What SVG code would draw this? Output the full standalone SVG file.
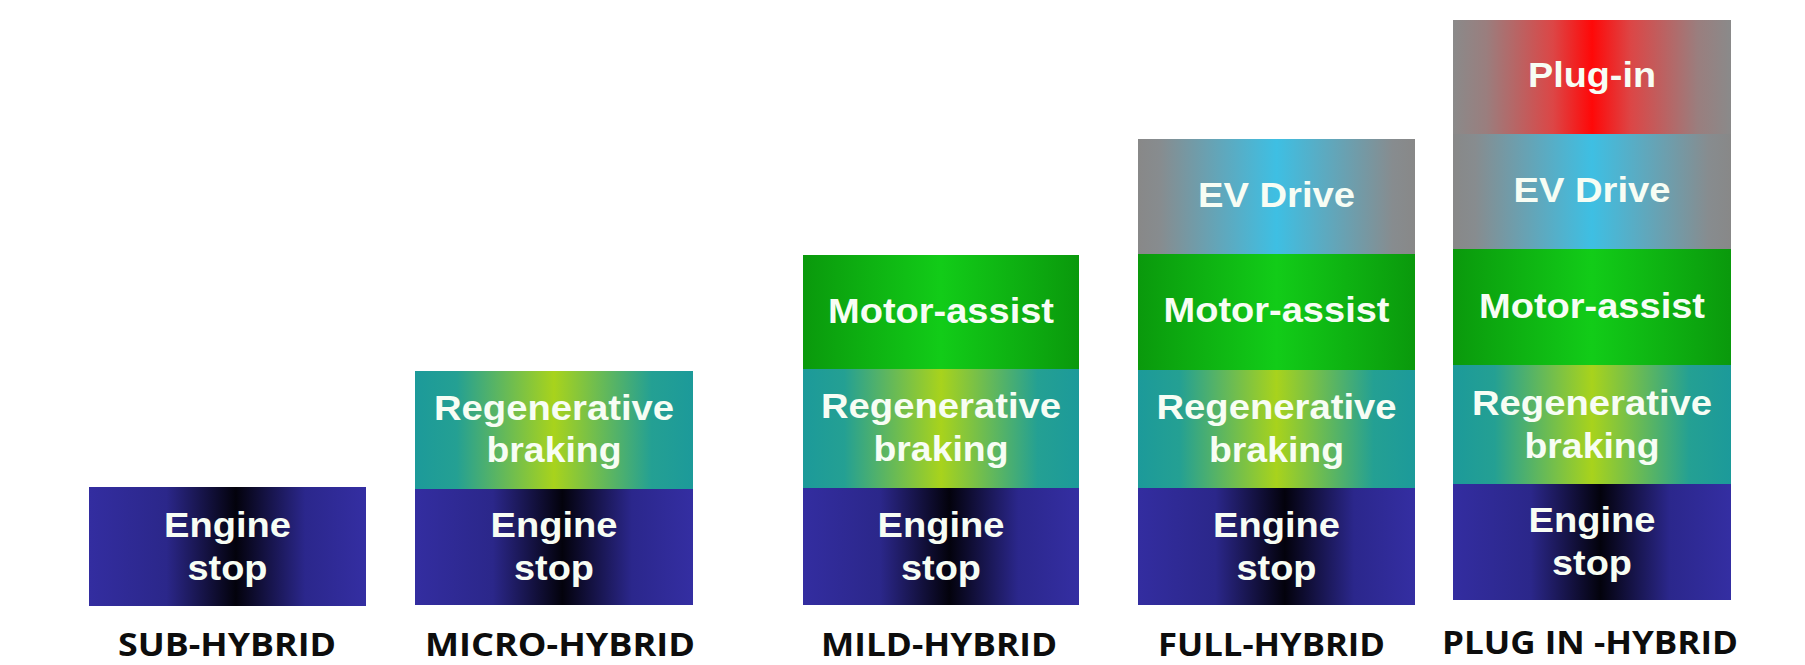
<svg xmlns="http://www.w3.org/2000/svg" width="1805" height="665" viewBox="0 0 1805 665">
<defs>
<linearGradient id="gEngine" x1="0" y1="0" x2="1" y2="0">
<stop offset="0" stop-color="#332da0"/>
<stop offset="0.28" stop-color="#2b278a"/>
<stop offset="0.53" stop-color="#03020c"/>
<stop offset="0.78" stop-color="#2b278c"/>
<stop offset="1" stop-color="#342ea2"/>
</linearGradient>
<linearGradient id="gRegen" x1="0" y1="0" x2="1" y2="0">
<stop offset="0" stop-color="#1c9a9a"/>
<stop offset="0.15" stop-color="#24a093"/>
<stop offset="0.5" stop-color="#a8d31c"/>
<stop offset="0.85" stop-color="#24a093"/>
<stop offset="1" stop-color="#1c9a9a"/>
</linearGradient>
<linearGradient id="gMotor" x1="0" y1="0" x2="1" y2="0">
<stop offset="0" stop-color="#0a990c"/>
<stop offset="0.5" stop-color="#12cc18"/>
<stop offset="1" stop-color="#0a990c"/>
</linearGradient>
<linearGradient id="gEV" x1="0" y1="0" x2="1" y2="0">
<stop offset="0" stop-color="#888888"/>
<stop offset="0.08" stop-color="#878c8f"/>
<stop offset="0.5" stop-color="#3ebfe3"/>
<stop offset="0.92" stop-color="#878c8f"/>
<stop offset="1" stop-color="#888888"/>
</linearGradient>
<linearGradient id="gPlug" x1="0" y1="0" x2="1" y2="0">
<stop offset="0" stop-color="#8a8a8a"/>
<stop offset="0.12" stop-color="#9a7e7e"/>
<stop offset="0.36" stop-color="#dc4646"/>
<stop offset="0.5" stop-color="#ff0808"/>
<stop offset="0.64" stop-color="#dc4646"/>
<stop offset="0.88" stop-color="#9a7e7e"/>
<stop offset="1" stop-color="#8a8a8a"/>
</linearGradient>
</defs>
<style>
.t{font-family:"Liberation Sans",Arial,sans-serif;font-weight:700;font-size:35px;fill:#f7fdf4;text-anchor:middle}
.lbl{font-family:"Open Sans","Liberation Sans",sans-serif;font-weight:700;font-size:33px;fill:#0d0d0d;text-anchor:middle}
.eng{fill:url(#gEngine)}
.reg{fill:url(#gRegen)}
.mot{fill:url(#gMotor)}
.ev{fill:url(#gEV)}
.plug{fill:url(#gPlug)}
</style>
<rect width="1805" height="665" fill="#ffffff"/>

<g id="sub-hybrid">
<rect class="eng" x="89" y="487" width="277" height="119"/>
<text class="t" x="227.5" y="537" textLength="127" lengthAdjust="spacingAndGlyphs">Engine</text>
<text class="t" x="227.5" y="580" textLength="80" lengthAdjust="spacingAndGlyphs">stop</text>
<text class="lbl" x="227" y="656" textLength="218" lengthAdjust="spacingAndGlyphs">SUB-HYBRID</text>
</g>

<g id="micro-hybrid">
<rect class="reg" x="415" y="371" width="278" height="118"/>
<rect class="eng" x="415" y="489" width="278" height="116"/>
<text class="t" x="554" y="420" textLength="240" lengthAdjust="spacingAndGlyphs">Regenerative</text>
<text class="t" x="554" y="462" textLength="135" lengthAdjust="spacingAndGlyphs">braking</text>
<text class="t" x="554" y="537" textLength="127" lengthAdjust="spacingAndGlyphs">Engine</text>
<text class="t" x="554" y="580" textLength="80" lengthAdjust="spacingAndGlyphs">stop</text>
<text class="lbl" x="560" y="656" textLength="270" lengthAdjust="spacingAndGlyphs">MICRO-HYBRID</text>
</g>

<g id="mild-hybrid">
<rect class="mot" x="803" y="255" width="276" height="114"/>
<rect class="reg" x="803" y="369" width="276" height="119"/>
<rect class="eng" x="803" y="488" width="276" height="117"/>
<text class="t" x="941" y="323" textLength="226" lengthAdjust="spacingAndGlyphs">Motor-assist</text>
<text class="t" x="941" y="418" textLength="240" lengthAdjust="spacingAndGlyphs">Regenerative</text>
<text class="t" x="941" y="461" textLength="135" lengthAdjust="spacingAndGlyphs">braking</text>
<text class="t" x="941" y="537" textLength="127" lengthAdjust="spacingAndGlyphs">Engine</text>
<text class="t" x="941" y="580" textLength="80" lengthAdjust="spacingAndGlyphs">stop</text>
<text class="lbl" x="939" y="656" textLength="236" lengthAdjust="spacingAndGlyphs">MILD-HYBRID</text>
</g>

<g id="full-hybrid">
<rect class="ev" x="1138" y="139" width="277" height="115"/>
<rect class="mot" x="1138" y="254" width="277" height="116"/>
<rect class="reg" x="1138" y="370" width="277" height="118"/>
<rect class="eng" x="1138" y="488" width="277" height="117"/>
<text class="t" x="1276.5" y="207" textLength="157" lengthAdjust="spacingAndGlyphs">EV Drive</text>
<text class="t" x="1276.5" y="322" textLength="226" lengthAdjust="spacingAndGlyphs">Motor-assist</text>
<text class="t" x="1276.5" y="419" textLength="240" lengthAdjust="spacingAndGlyphs">Regenerative</text>
<text class="t" x="1276.5" y="462" textLength="135" lengthAdjust="spacingAndGlyphs">braking</text>
<text class="t" x="1276.5" y="537" textLength="127" lengthAdjust="spacingAndGlyphs">Engine</text>
<text class="t" x="1276.5" y="580" textLength="80" lengthAdjust="spacingAndGlyphs">stop</text>
<text class="lbl" x="1271.5" y="656" textLength="227" lengthAdjust="spacingAndGlyphs">FULL-HYBRID</text>
</g>

<g id="plug-in-hybrid">
<rect class="plug" x="1453" y="20" width="278" height="114"/>
<rect class="ev" x="1453" y="134" width="278" height="115"/>
<rect class="mot" x="1453" y="249" width="278" height="116"/>
<rect class="reg" x="1453" y="365" width="278" height="119"/>
<rect class="eng" x="1453" y="484" width="278" height="116"/>
<text class="t" x="1592" y="87" textLength="128" lengthAdjust="spacingAndGlyphs">Plug-in</text>
<text class="t" x="1592" y="202" textLength="157" lengthAdjust="spacingAndGlyphs">EV Drive</text>
<text class="t" x="1592" y="318" textLength="226" lengthAdjust="spacingAndGlyphs">Motor-assist</text>
<text class="t" x="1592" y="415" textLength="240" lengthAdjust="spacingAndGlyphs">Regenerative</text>
<text class="t" x="1592" y="458" textLength="135" lengthAdjust="spacingAndGlyphs">braking</text>
<text class="t" x="1592" y="532" textLength="127" lengthAdjust="spacingAndGlyphs">Engine</text>
<text class="t" x="1592" y="575" textLength="80" lengthAdjust="spacingAndGlyphs">stop</text>
<text class="lbl" x="1590" y="654" textLength="296" lengthAdjust="spacingAndGlyphs">PLUG IN -HYBRID</text>
</g>

<g id="connectors"></g>
</svg>
